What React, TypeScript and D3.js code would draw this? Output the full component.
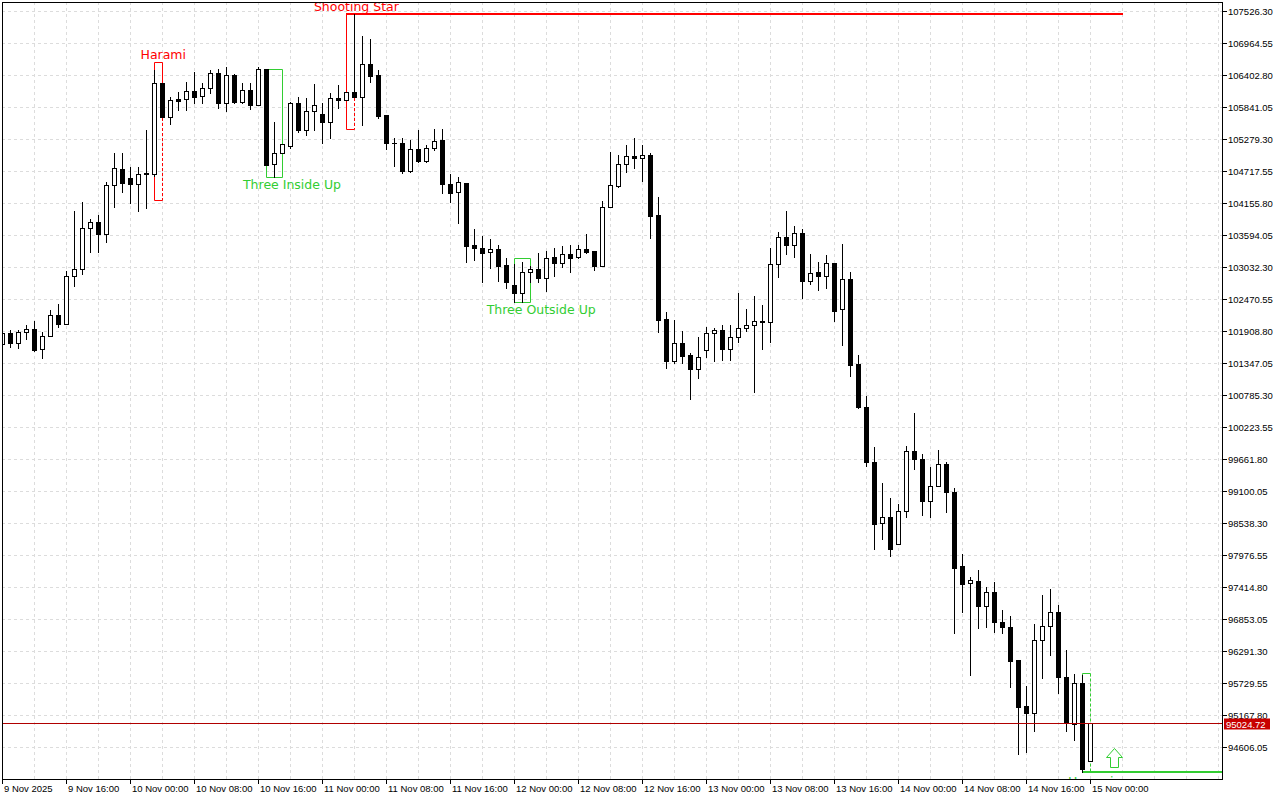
import React from 'react';
import * as d3 from 'd3';

// ---- data (hourly candles, 9 Nov 2025 08:00 -> 15 Nov 2025 01:00) ----
const timeLabels = [
  '9 Nov 2025', '9 Nov 16:00', '10 Nov 00:00', '10 Nov 08:00', '10 Nov 16:00',
  '11 Nov 00:00', '11 Nov 08:00', '11 Nov 16:00', '12 Nov 00:00', '12 Nov 08:00',
  '12 Nov 16:00', '13 Nov 00:00', '13 Nov 08:00', '13 Nov 16:00', '14 Nov 00:00',
  '14 Nov 08:00', '14 Nov 16:00', '15 Nov 00:00',
];
const timeLabelStep = 8;

const priceTicks = [
  107526.30, 106964.55, 106402.80, 105841.05, 105279.30, 104717.55, 104155.80, 103594.05,
  103032.30, 102470.55, 101908.80, 101347.05, 100785.30, 100223.55, 99661.80, 99100.05,
  98538.30, 97976.55, 97414.80, 96853.05, 96291.30, 95729.55, 95167.80, 94606.05,
];

const lastPrice = 95024.72;

const opens = [
  101681, 101873, 101698, 101891, 101944, 101593, 101821, 102190, 102032, 102875,
  102997, 103717, 103822, 103612, 104472, 104753, 104595, 104489, 104665, 104665,
  106262, 105665, 105973, 105981, 106122, 106034, 106174, 106438, 105911, 106403,
  105929, 106139, 105876, 106508, 104840, 105033, 105156, 105911, 105437, 105771,
  105718, 105578, 105999, 105964, 106104, 106017, 106596, 106403, 105700, 105214,
  105209, 104718, 105104, 104893, 105121, 105262, 104489, 104349, 104507, 103418,
  103366, 103296, 103348, 103068, 102717, 102576, 102945, 102997, 102840, 103208,
  103103, 103261, 103208, 103348, 103313, 103050, 104086, 104454, 104841, 104981,
  104946, 104998, 103945, 102120, 101382, 101698, 101488, 101242, 101575, 101873,
  101926, 101593, 101804, 101961, 102014, 102084, 102067, 103085, 103559, 103418,
  103629, 102787, 102945, 102875, 103103, 102295, 102822, 101330, 100575, 99609,
  98538, 98643, 98170, 98749, 99802, 99662, 98925, 99188, 99574, 99083,
  97784, 97485, 97520, 97081, 97327, 96801, 96713, 96134, 95326, 95203,
  96485, 96730, 96976, 95835, 95010, 95730, 94361, 95024.72,
];

const highs = [
  101908, 101926, 101926, 102014, 102084, 101891, 102278, 102383, 102962, 104015,
  104173, 103875, 103945, 104525, 105033, 105033, 104788, 104788, 105437, 106491,
  106262, 106017, 106104, 106280, 106456, 106262, 106491, 106508, 106543, 106420,
  106262, 106262, 106543, 106508, 105578, 105191, 105929, 106017, 105999, 106245,
  105911, 106087, 106227, 106104, 107474, 107087, 107035, 106491, 105700, 105297,
  105297, 105262, 105437, 105174, 105455, 105455, 104665, 104612, 104507, 103699,
  103576, 103524, 103418, 103190, 103085, 103120, 103050, 103278, 103313, 103366,
  103401, 103418, 103418, 103612, 103313, 104191, 105051, 104998, 105174, 105297,
  105174, 105033, 104261, 102243, 102102, 101908, 101523, 101804, 101979, 101961,
  102014, 102014, 102576, 102295, 102523, 102365, 103366, 103647, 104015, 103752,
  103699, 103261, 103120, 103243, 103103, 103436, 102945, 101488, 100768, 99873,
  99241, 98977, 98872, 99890, 100470, 99750, 99521, 99820, 99609, 99153,
  97994, 97590, 97714, 97415, 97503, 97011, 96906, 96134, 95677, 96765,
  97274, 97380, 97099, 96309, 95888, 95870, 95024.72, 95024.72,
];

const lows = [
  101646, 101628, 101611, 101768, 101557, 101435, 101821, 101979, 102032, 102699,
  102910, 103296, 103296, 103471, 104086, 104349, 104156, 104015, 104068, 104630,
  105665, 105543, 105788, 105788, 105911, 105911, 106087, 105823, 105771, 105911,
  105911, 105806, 105876, 104823, 104618, 105033, 105121, 105402, 105349, 105437,
  105209, 105297, 105823, 105964, 106017, 105525, 106280, 105648, 105104, 104806,
  104683, 104700, 104876, 104876, 105086, 104332, 104173, 103805, 103120, 103155,
  102769, 103015, 102787, 102664, 102418, 102418, 102769, 102769, 102611, 102875,
  103032, 102945, 103190, 103278, 102980, 103050, 104086, 104437, 104700, 104770,
  104542, 103541, 101891, 101259, 101347, 101347, 100715, 101084, 101452, 101382,
  101400, 101400, 101716, 101908, 100838, 101593, 101716, 102857, 103261, 103208,
  102488, 102734, 102629, 102664, 102084, 101663, 101119, 100557, 99539, 98082,
  98257, 97959, 98170, 98643, 99486, 98679, 98643, 99188, 98731, 96607,
  96976, 95871, 96695, 96713, 96625, 96607, 95659, 94484, 94519, 94887,
  95818, 96221, 95554, 94887, 94729, 94167, 94361, 95024.72,
];

const closes = [
  101873, 101698, 101891, 101944, 101575, 101821, 102190, 102032, 102875, 102997,
  103717, 103822, 103612, 104472, 104770, 104507, 104489, 104665, 104683, 106262,
  105665, 105964, 105955, 106122, 106017, 106174, 106438, 105911, 106403, 105929,
  106139, 105876, 106508, 104823, 105033, 105191, 105911, 105437, 105771, 105876,
  105578, 105999, 105964, 106104, 106017, 106596, 106385, 105683, 105209, 105204,
  104718, 105104, 104893, 105121, 105244, 104489, 104332, 104525, 103401, 103366,
  103278, 103348, 103050, 102769, 102576, 102945, 102997, 102840, 103190, 103103,
  103261, 103190, 103348, 103296, 103050, 104086, 104472, 104841, 104981, 104946,
  104998, 103927, 102102, 101382, 101698, 101470, 101242, 101452, 101873, 101926,
  101593, 101804, 101961, 102014, 102084, 102067, 103085, 103559, 103418, 103629,
  102787, 102927, 102875, 103103, 102260, 102822, 101312, 100575, 99609, 98521,
  98643, 98082, 98749, 99802, 99662, 98925, 99188, 99574, 99083, 97748,
  97468, 97538, 97081, 97327, 96801, 96713, 96116, 95308, 95203, 96485,
  96730, 96976, 95835, 95028, 95730, 94220, 95024.72, 95024.72,
];

const patternNames = ['Harami', 'Three Inside Up', 'Shooting Star', 'Three Outside Up', 'Harami'];
const patternFrom = [19, 33, 43, 64, 135];
const patternTo = [20, 35, 44, 66, 136];
const patternTop = [106626, 106508, 107474, 103185, 95899];
const patternBottom = [104208, 104618, 105455, 102423, 94167];
const patternBullish = [false, true, false, true, true];
const patternLabelAt = [20.16, 36.25, 44.3, 67.4, 136.1];
const patternLabelGap = [3, 12, 3, 12, 14];
const patternEdge = ['split', 'solid', 'split', 'solid', 'dashed'];
const patternLineTo = [null, null, 140, null, 'edge'];

const arrowIndex = 139;
const arrowPrice = 94588;

// ---- layout ----
const W = 1280;
const H = 800;
const plotL = 2;
const plotT = 2;
const plotR = 1222;
const plotB = 779;
const RED = '#ff0000';
const GREEN = '#32cd32';
const AXIS_FONT = "'Liberation Sans', Arial, sans-serif";
const AXIS_SIZE = 9.5;
const LABEL_FONT = "'DejaVu Sans', Verdana, sans-serif";

export default function App() {
  const n = opens.length;
  const x = d3.scaleLinear().domain([0, n - 1]).range([2, 2 + 8 * (n - 1)]);
  const y = d3
    .scaleLinear()
    .domain([priceTicks[priceTicks.length - 1], priceTicks[0]])
    .range([747, 11]);
  const px = (i: number) => Math.round(x(i));
  const py = (p: number) => Math.round(y(p));

  const vGrid = d3.range(plotL + 32, plotR - 1, 32);

  const candles = opens.map((o, i) => {
    const c = closes[i];
    const cx = px(i);
    const yH = py(highs[i]);
    const yL = py(lows[i]);
    const yO = py(o);
    const yC = py(c);
    const top = Math.min(yO, yC);
    const bot = Math.max(yO, yC);
    let body;
    if (bot - top < 1) {
      body = <line x1={cx - 2} x2={cx + 3} y1={top + 0.5} y2={top + 0.5} stroke="#000" strokeWidth={1} />;
    } else if (c > o) {
      body = (
        <rect x={cx - 1.5} y={top + 0.5} width={4} height={bot - top} fill="#fff" stroke="#000" strokeWidth={1} />
      );
    } else {
      body = <rect x={cx - 2} y={top} width={5} height={bot - top + 1} fill="#000" />;
    }
    return (
      <g key={i}>
        {yL > yH ? (
          <line x1={cx + 0.5} x2={cx + 0.5} y1={yH} y2={yL + 1} stroke="#000" strokeWidth={1} />
        ) : null}
        {body}
      </g>
    );
  });

  const patterns = patternNames.map((name, k) => {
    const color = patternBullish[k] ? GREEN : RED;
    const x0 = px(patternFrom[k]) + 0.5;
    const x1 = px(patternTo[k]) + 0.5;
    const yT = py(patternTop[k]) + 0.5;
    const yB = py(patternBottom[k]) + 0.5;
    const last = patternTo[k];
    const bTop = Math.min(py(opens[last]), py(closes[last]));
    const bBot = Math.max(py(opens[last]), py(closes[last]));
    const edge = patternEdge[k];
    const lineTo = patternLineTo[k];
    const lineLevel = patternBullish[k] ? patternBottom[k] : patternTop[k];
    const lineY = py(lineLevel);
    const lineX2 = lineTo === 'edge' ? plotR : lineTo == null ? null : px(lineTo as number) + 1;
    return {
      under: (
        <g key={'p' + k}>
          <line x1={x0} x2={x1} y1={yT} y2={yT} stroke={color} />
          <line x1={x0} x2={x1} y1={yB} y2={yB} stroke={color} />
          <line x1={x0} x2={x0} y1={yT} y2={yB} stroke={color} />
          {edge === 'solid' && <line x1={x1} x2={x1} y1={yT} y2={yB} stroke={color} />}
          {edge === 'split' && (
            <>
              <line x1={x1} x2={x1} y1={yT} y2={bTop} stroke={color} />
              <line x1={x1} x2={x1} y1={bBot + 1} y2={yB} stroke={color} strokeDasharray="3,2" />
            </>
          )}
          {edge === 'dashed' && (
            <line x1={x1} x2={x1} y1={yT} y2={yB} stroke={color} strokeDasharray="3,2" />
          )}
          {lineX2 != null && (
            <rect x={x0 - 0.5} y={lineY - 1} width={lineX2 - (x0 - 0.5)} height={2} fill={color} />
          )}
        </g>
      ),
      label: (
        <text
          key={'t' + k}
          x={x(patternLabelAt[k])}
          y={
            patternBullish[k]
              ? py(patternBottom[k]) + patternLabelGap[k]
              : py(patternTop[k]) - patternLabelGap[k]
          }
          fill={color}
          fontFamily={LABEL_FONT}
          fontSize={12.5}
          textAnchor="middle"
        >
          {name}
        </text>
      ),
    };
  });

  const ax = px(arrowIndex) + 0.5;
  const ay = py(arrowPrice) + 0.5;
  const arrowPath = `M${ax},${ay} L${ax + 8},${ay + 9} L${ax + 4},${ay + 9} L${ax + 4},${ay + 19} L${ax - 4},${ay + 19} L${ax - 4},${ay + 9} L${ax - 8},${ay + 9} Z`;

  const lastY = py(lastPrice) + 0.5;

  return (
    <svg
      width={W}
      height={H}
      viewBox={`0 0 ${W} ${H}`}
      style={{ position: 'absolute', left: 0, top: 0, display: 'block', background: '#fff' }}
    >
      <defs>
        <clipPath id="plotClip">
          <rect x={plotL + 1} y={plotT + 1} width={plotR - plotL - 1} height={plotB - plotT - 1} />
        </clipPath>
      </defs>
      <rect x={0} y={0} width={W} height={H} fill="#fff" />
      <g clipPath="url(#plotClip)">
        {vGrid.map((gx) => (
          <line key={'vg' + gx} x1={gx + 0.5} x2={gx + 0.5} y1={plotT} y2={plotB} stroke="#dcdcdc" strokeDasharray="3,3" />
        ))}
        {priceTicks.map((p) => (
          <line key={'hg' + p} x1={plotL} x2={plotR} y1={py(p) + 0.5} y2={py(p) + 0.5} stroke="#dcdcdc" strokeDasharray="3,3" />
        ))}
        {patterns.map((p) => p.under)}
        {candles}
        {patterns.map((p) => p.label)}
        <path d={arrowPath} fill="#fff" stroke={GREEN} strokeWidth={1} />
        <line x1={plotL} x2={plotR} y1={lastY} y2={lastY} stroke="#b00000" strokeWidth={1} />
      </g>
      {/* frame */}
      <line x1={plotL + 0.5} x2={plotL + 0.5} y1={plotT} y2={plotB + 1} stroke="#000" />
      <line x1={plotL} x2={plotR + 1} y1={plotT + 0.5} y2={plotT + 0.5} stroke="#000" />
      <line x1={plotR + 0.5} x2={plotR + 0.5} y1={plotT} y2={plotB + 1} stroke="#000" />
      <line x1={plotL} x2={plotR + 1} y1={plotB + 0.5} y2={plotB + 0.5} stroke="#000" />
      {/* right axis */}
      {priceTicks.map((p) => (
        <g key={'pt' + p}>
          <line x1={plotR + 1} x2={plotR + 5} y1={py(p) + 0.5} y2={py(p) + 0.5} stroke="#000" />
          <text x={plotR + 6} y={py(p) + 4} fontFamily={AXIS_FONT} fontSize={AXIS_SIZE} fill="#000">
            {p.toFixed(2)}
          </text>
        </g>
      ))}
      <rect x={plotR + 2} y={lastY - 5} width={46} height={11} fill="#c80000" />
      <text x={plotR + 4} y={lastY + 4} fontFamily={AXIS_FONT} fontSize={AXIS_SIZE} fill="#fff">
        {lastPrice.toFixed(2)}
      </text>
      {/* bottom axis */}
      {timeLabels.map((t, k) => {
        const tx = px(k * timeLabelStep);
        return (
          <g key={'tl' + k}>
            <line x1={tx + 0.5} x2={tx + 0.5} y1={plotB + 1} y2={plotB + 5} stroke="#000" />
            <text x={tx + 2} y={plotB + 13} fontFamily={AXIS_FONT} fontSize={AXIS_SIZE} fill="#000">
              {t}
            </text>
          </g>
        );
      })}
    </svg>
  );
}
